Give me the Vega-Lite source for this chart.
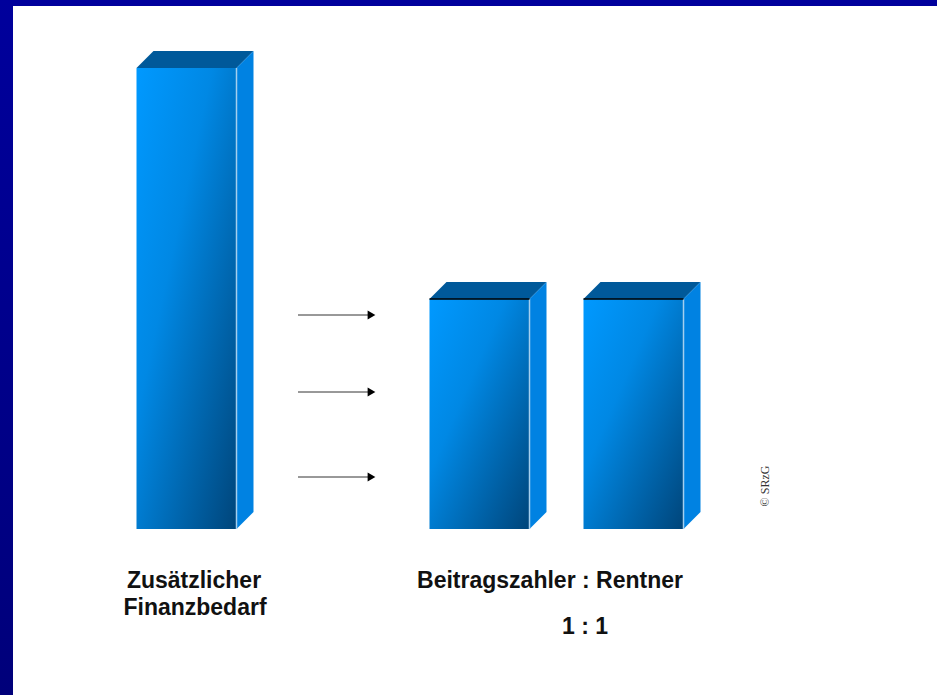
{
"$schema":"https://vega.github.io/schema/vega-lite/v6.json",
"width":937,"height":695,"autosize":{"type":"fit","contains":"padding"},"padding":0,"background":"#ffffff",
"config":{"view":{"stroke":null}},
"datasets":{
"bars":[
{"name":"Zusätzlicher Finanzbedarf","left":136.5,"right":236.5,"top":68,"base":529},
{"name":"Beitragszahler","left":429.5,"right":529.5,"top":299,"base":529},
{"name":"Rentner","left":583.5,"right":683.5,"top":299,"base":529}],
"topfaces":[
{"name":"a","px":136.5,"upper":68,"lower":68},{"name":"a","px":153.5,"upper":51,"lower":68},{"name":"a","px":236.5,"upper":51,"lower":68},{"name":"a","px":253.5,"upper":51,"lower":51},
{"name":"b","px":429.5,"upper":299,"lower":299},{"name":"b","px":446.5,"upper":282,"lower":299},{"name":"b","px":529.5,"upper":282,"lower":299},{"name":"b","px":546.5,"upper":282,"lower":282},
{"name":"c","px":583.5,"upper":299,"lower":299},{"name":"c","px":600.5,"upper":282,"lower":299},{"name":"c","px":683.5,"upper":282,"lower":299},{"name":"c","px":700.5,"upper":282,"lower":282}],
"sidefaces":[
{"name":"a","px":236.5,"upper":68,"lower":529},{"name":"a","px":253.5,"upper":51,"lower":512},
{"name":"b","px":529.5,"upper":299,"lower":529},{"name":"b","px":546.5,"upper":282,"lower":512},
{"name":"c","px":683.5,"upper":299,"lower":529},{"name":"c","px":700.5,"upper":282,"lower":512}],
"arrows":[{"from":298,"to":368,"head":371.5,"at":315},{"from":298,"to":368,"head":371.5,"at":392},{"from":298,"to":368,"head":371.5,"at":477}],
"labels":[
{"text":"Zusätzlicher","px":194,"py":581},{"text":"Finanzbedarf","px":195,"py":608},
{"text":"Beitragszahler : Rentner","px":550,"py":581},{"text":"1 : 1","px":585,"py":627}]
},
"layer":[
{"data":{"values":[{"a":0,"b":937,"c":0,"d":6}]},
 "mark":{"type":"rect","color":"#00009C"},
 "encoding":{"x":{"field":"a","type":"quantitative","scale":{"domain":[0,937],"nice":false,"zero":false},"axis":null},"x2":{"field":"b"},"y":{"field":"c","type":"quantitative","scale":{"domain":[695,0],"nice":false,"zero":false},"axis":null},"y2":{"field":"d"}}},
{"data":{"values":[{"a":0,"b":13,"c":0,"d":695}]},
 "mark":{"type":"rect","color":{"gradient":"linear","x1":0,"y1":0,"x2":0,"y2":1,"stops":[{"offset":0,"color":"#00009C"},{"offset":1,"color":"#00007A"}]}},
 "encoding":{"x":{"field":"a","type":"quantitative"},"x2":{"field":"b"},"y":{"field":"c","type":"quantitative"},"y2":{"field":"d"}}},
{"data":{"name":"bars"},
 "mark":{"type":"rect","color":{"gradient":"linear","x1":0,"y1":0,"x2":1,"y2":1,"stops":[{"offset":0,"color":"#0099FF"},{"offset":0.38,"color":"#0088E4"},{"offset":1,"color":"#00457A"}]}},
 "encoding":{"x":{"field":"left","type":"quantitative"},"x2":{"field":"right"},"y":{"field":"top","type":"quantitative"},"y2":{"field":"base"}}},
{"data":{"name":"topfaces"},
 "mark":{"type":"area","color":"#00599A","opacity":1},
 "encoding":{"x":{"field":"px","type":"quantitative"},"y":{"field":"upper","type":"quantitative"},"y2":{"field":"lower"},"detail":{"field":"name"}}},
{"data":{"name":"sidefaces"},
 "mark":{"type":"area","color":"#0082E2","opacity":1},
 "encoding":{"x":{"field":"px","type":"quantitative"},"y":{"field":"upper","type":"quantitative"},"y2":{"field":"lower"},"detail":{"field":"name"}}},
{"data":{"name":"bars"},
 "mark":{"type":"rule","color":"#A5CFEE","strokeWidth":1.5},
 "encoding":{"x":{"field":"right","type":"quantitative"},"y":{"field":"top","type":"quantitative"},"y2":{"field":"base"}}},
{"data":{"name":"bars"},
 "transform":[{"filter":"datum.top > 100"}],
 "mark":{"type":"rule","color":"#000000","strokeWidth":1.5},
 "encoding":{"x":{"field":"left","type":"quantitative"},"x2":{"field":"right"},"y":{"field":"top","type":"quantitative"}}},
{"data":{"name":"arrows"},
 "mark":{"type":"rule","color":"#333333","strokeWidth":1},
 "encoding":{"x":{"field":"from","type":"quantitative"},"x2":{"field":"to"},"y":{"field":"at","type":"quantitative"}}},
{"data":{"name":"arrows"},
 "mark":{"type":"point","shape":"triangle-right","filled":true,"color":"#000000","opacity":1,"size":80},
 "encoding":{"x":{"field":"head","type":"quantitative"},"y":{"field":"at","type":"quantitative"}}},
{"data":{"name":"labels"},
 "mark":{"type":"text","font":"Liberation Sans","fontWeight":"bold","fontSize":23,"color":"#111111","align":"center","baseline":"middle"},
 "encoding":{"x":{"field":"px","type":"quantitative"},"y":{"field":"py","type":"quantitative"},"text":{"field":"text"}}},
{"data":{"values":[{"text":"© SRzG","px":765,"py":486}]},
 "mark":{"type":"text","font":"Liberation Serif","fontSize":12,"color":"#333333","angle":270,"align":"center","baseline":"middle"},
 "encoding":{"x":{"field":"px","type":"quantitative"},"y":{"field":"py","type":"quantitative"},"text":{"field":"text"}}}
]
}
